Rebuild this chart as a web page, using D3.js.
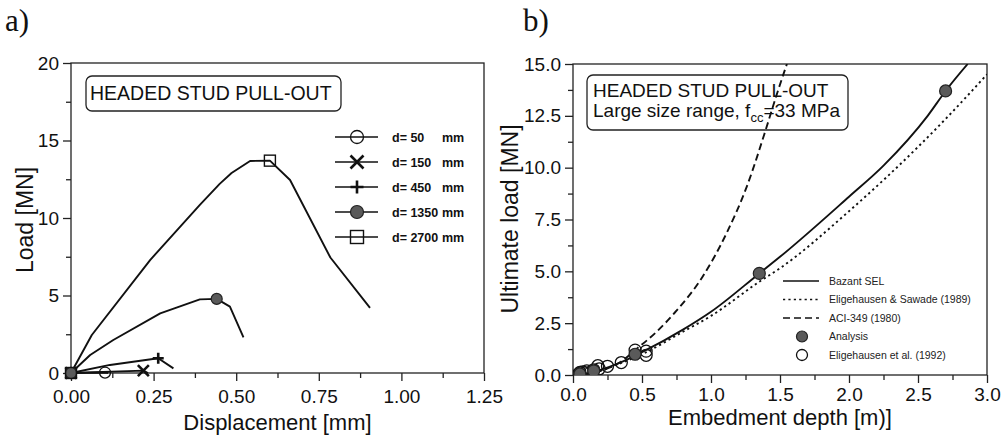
<!DOCTYPE html>
<html>
<head>
<meta charset="utf-8">
<title>Headed stud pull-out</title>
<script src="https://cdn.jsdelivr.net/npm/d3@7"></script>
<style>
  body { margin: 0; background: #fff; }
  svg { font-family: "Liberation Sans", Arial, sans-serif; }
</style>
</head>
<body>
<script>
// ---- panel a) load vs displacement, one curve per stud depth d ----
var d50   = [[0,0],[0.103,0.03],[0.112,0]];
var d150  = [[0,0],[0.219,0.15],[0.233,0]];
var d450  = [[0,0],[0.118,0.52],[0.264,0.95],[0.31,0.3]];
var d1350 = [[0,0],[0.058,1.16],[0.128,2.13],[0.27,3.85],[0.39,4.75],[0.441,4.78],[0.481,4.28],[0.522,2.3]];
var d2700 = [[0,0],[0.063,2.45],[0.24,7.3],[0.39,10.85],[0.45,12.2],[0.486,12.9],[0.542,13.68],[0.602,13.7],[0.663,12.45],[0.785,7.45],[0.905,4.2]];
var seriesA = [d50, d150, d450, d1350, d2700];
var labelsA = ["d= 50", "d= 150", "d= 450", "d= 1350", "d= 2700"];
var xTicksA = [0, 0.25, 0.5, 0.75, 1.0, 1.25];
var yTicksA = [0, 5, 10, 15, 20];

// ---- panel b) ultimate load vs embedment depth ----
var bazantSEL  = [[0,0],[0.1,0.08],[0.2,0.25],[0.35,0.62],[0.5,1.1],[0.8,2.2],[1.0,3.05],[1.35,4.9],[1.5,5.7],[2.0,8.6],[2.25,10.1],[2.57,12.5],[2.7,13.7],[2.86,15.0]];
var eligSawade = [[0,0],[0.1,0.07],[0.2,0.22],[0.35,0.58],[0.5,1.0],[0.8,2.1],[1.0,2.85],[1.35,4.5],[1.5,5.15],[2.0,7.9],[2.5,11.0],[2.7,12.35],[3.0,14.5]];
var aci349     = [[0,0],[0.2,0.2],[0.35,0.65],[0.45,1.2],[0.6,2.05],[0.75,3.1],[0.94,4.75],[1.11,6.8],[1.26,9.1],[1.40,11.9],[1.47,13.4],[1.55,15.0]];
var analysis   = [[0.05,0.05],[0.15,0.2],[0.45,1.0],[1.35,4.9],[2.7,13.7]];
var elig1992   = [[0.04,0.05],[0.05,0.12],[0.07,0.15],[0.09,0.1],[0.10,0.2],[0.13,0.15],[0.15,0.25],[0.18,0.45],[0.19,0.3],[0.25,0.42],[0.35,0.6],[0.45,1.2],[0.53,1.15],[0.53,0.95]];
var labelsB = ["Bazant SEL", "Eligehausen & Sawade (1989)", "ACI-349 (1980)", "Analysis", "Eligehausen et al. (1992)"];
var xTicksB = [0, 0.5, 1.0, 1.5, 2.0, 2.5, 3.0];
var yTicksB = [0, 2.5, 5.0, 7.5, 10.0, 12.5, 15.0];

var svg = d3.select("body").append("svg")
  .attr("width", 1002).attr("height", 438);
svg.append("rect").attr("width", 1002).attr("height", 438).attr("fill", "#fff");

var ink = "#111";

// draws one marker symbol centred at (cx, cy)
function marker(g, type, cx, cy, s) {
  var h = s / 2;
  if (type == "circle") {
    g.append("circle").attr("cx", cx).attr("cy", cy).attr("r", h)
      .attr("fill", "none").attr("stroke", ink).attr("stroke-width", 1.3);
  } else if (type == "dot") {
    g.append("circle").attr("cx", cx).attr("cy", cy).attr("r", h)
      .attr("fill", "#5a5a5a").attr("stroke", "#222").attr("stroke-width", 1.2);
  } else if (type == "square") {
    g.append("rect").attr("x", cx - h).attr("y", cy - h).attr("width", s).attr("height", s)
      .attr("fill", "none").attr("stroke", ink).attr("stroke-width", 1.4);
  } else if (type == "cross") {
    g.append("path").attr("d", "M" + (cx-h) + "," + (cy-h) + "L" + (cx+h) + "," + (cy+h) + "M" + (cx-h) + "," + (cy+h) + "L" + (cx+h) + "," + (cy-h))
      .attr("stroke", ink).attr("stroke-width", 2.6);
  } else if (type == "plus") {
    g.append("path").attr("d", "M" + (cx-h) + "," + cy + "L" + (cx+h) + "," + cy + "M" + cx + "," + (cy-h) + "L" + cx + "," + (cy+h))
      .attr("stroke", ink).attr("stroke-width", 2.6);
  }
}

// frame + major/minor ticks for one panel
function axes(x, y, xt, yt, xfmt, yfmt, pad) {
  var g = svg.append("g");
  var xr = x.range(), yr = y.range();
  var xMinor = xt.slice(1).map(function(d, i) { return (d + xt[i]) / 2; });
  var yMinor = yt.slice(1).map(function(d, i) { return (d + yt[i]) / 2; });

  var xa = g.append("g").attr("transform", "translate(0," + yr[0] + ")")
    .call(d3.axisBottom(x).tickValues(xt).tickFormat(xfmt).tickSize(8).tickSizeOuter(0).tickPadding(pad));
  g.append("g").attr("transform", "translate(0," + yr[0] + ")")
    .call(d3.axisBottom(x).tickValues(xMinor).tickFormat("").tickSize(5).tickSizeOuter(0));
  g.append("g").attr("transform", "translate(" + xr[0] + ",0)")
    .call(d3.axisLeft(y).tickValues(yt).tickFormat(yfmt).tickSize(8).tickSizeOuter(0).tickPadding(4));
  g.append("g").attr("transform", "translate(" + xr[0] + ",0)")
    .call(d3.axisLeft(y).tickValues(yMinor).tickFormat("").tickSize(5).tickSizeOuter(0));

  g.selectAll(".domain").remove();
  g.selectAll(".tick line").attr("stroke", "#222").attr("stroke-width", 1.3);
  g.selectAll("text").attr("font-size", "19px").attr("fill", ink)
    .attr("font-family", "Liberation Sans, Arial, sans-serif");
  xa.selectAll("text").attr("dy", "0.72em");

  g.append("rect").attr("x", xr[0]).attr("y", yr[1])
    .attr("width", xr[1] - xr[0]).attr("height", yr[0] - yr[1])
    .attr("fill", "none").attr("stroke", "#222").attr("stroke-width", 1.3);
}

// ======================= panel a) =======================
var xA = d3.scaleLinear().domain([0, 1.25]).range([71, 484]);
var yA = d3.scaleLinear().domain([0, 20]).range([373, 63]);

svg.append("text").attr("x", 5).attr("y", 31).text("a)")
  .attr("font-family", "Liberation Serif, DejaVu Serif, serif").attr("font-size", "31px").attr("fill", ink);

axes(xA, yA, xTicksA, yTicksA, d3.format(".2f"), d3.format("d"), 8);

svg.append("text").attr("x", 277.5).attr("y", 430).attr("text-anchor", "middle")
  .attr("font-size", "22px").attr("fill", ink).text("Displacement [mm]");
svg.append("text").attr("transform", "translate(33,220) rotate(-90)").attr("text-anchor", "middle")
  .attr("font-size", "23px").attr("fill", ink).text("Load [MN]");

// title box
svg.append("rect").attr("x", 86).attr("y", 76).attr("width", 255).attr("height", 35).attr("rx", 6)
  .attr("fill", "none").attr("stroke", "#222").attr("stroke-width", 1.3);
svg.append("text").attr("x", 90).attr("y", 100).attr("font-size", "19.5px").attr("fill", ink)
  .text("HEADED STUD PULL-OUT");

var symA = ["circle", "cross", "plus", "dot", "square"];
var lineA = d3.line().x(function(d) { return xA(d[0]); }).y(function(d) { return yA(d[1]); });
var gA = svg.append("g");
seriesA.forEach(function(s, i) {
  gA.append("path").datum(s).attr("d", lineA)
    .attr("fill", "none").attr("stroke", ink).attr("stroke-width", 1.9).attr("stroke-linejoin", "round");
});
// markers at origin and at the peak of each curve
seriesA.forEach(function(s, i) {
  marker(gA, symA[i], xA(s[0][0]), yA(s[0][1]), 11);
  var p = s[d3.maxIndex(s, function(d) { return d[1]; })];
  marker(gA, symA[i], xA(p[0]), yA(p[1]), 11);
});

// legend a)
var legA = svg.append("g");
labelsA.forEach(function(t, i) {
  var yy = 137 + i * 25;
  legA.append("line").attr("x1", 335).attr("x2", 378).attr("y1", yy).attr("y2", yy)
    .attr("stroke", ink).attr("stroke-width", 1.6);
  marker(legA, symA[i], 357, yy, 13);
  legA.append("text").attr("x", 392).attr("y", yy + 4.5).attr("font-size", "12.5px").attr("font-weight", "bold")
    .attr("fill", ink).text(t);
  legA.append("text").attr("x", 442).attr("y", yy + 4.5).attr("font-size", "12.5px").attr("font-weight", "bold")
    .attr("fill", ink).text("mm");
});

// ======================= panel b) =======================
var xB = d3.scaleLinear().domain([0, 3]).range([573, 987]);
var yB = d3.scaleLinear().domain([0, 15]).range([375, 64]);

svg.append("text").attr("x", 523).attr("y", 31).text("b)")
  .attr("font-family", "Liberation Serif, DejaVu Serif, serif").attr("font-size", "31px").attr("fill", ink);

axes(xB, yB, xTicksB, yTicksB, d3.format(".1f"), d3.format(".1f"), 4);

svg.append("text").attr("x", 780).attr("y", 425).attr("text-anchor", "middle")
  .attr("font-size", "22px").attr("fill", ink).text("Embedment depth [m)]");
svg.append("text").attr("transform", "translate(518,219) rotate(-90)").attr("text-anchor", "middle")
  .attr("font-size", "23px").attr("fill", ink).text("Ultimate load [MN]");

// title box
svg.append("rect").attr("x", 587).attr("y", 75).attr("width", 261).attr("height", 55).attr("rx", 6)
  .attr("fill", "none").attr("stroke", "#222").attr("stroke-width", 1.3);
svg.append("text").attr("x", 593).attr("y", 97).attr("font-size", "19px").attr("fill", ink)
  .text("HEADED STUD PULL-OUT");
var t2 = svg.append("text").attr("x", 593).attr("y", 117).attr("font-size", "19px").attr("fill", ink);
t2.append("tspan").text("Large size range, f");
t2.append("tspan").attr("font-size", "13px").attr("dy", 5).text("cc");
t2.append("tspan").attr("dy", -5).text("=33 MPa");

svg.append("clipPath").attr("id", "clipB").append("rect")
  .attr("x", 573).attr("y", 64).attr("width", 414).attr("height", 311);

var lineB = d3.line().curve(d3.curveMonotoneX)
  .x(function(d) { return xB(d[0]); }).y(function(d) { return yB(d[1]); });
var gB = svg.append("g").attr("clip-path", "url(#clipB)");
var stylesB = [
  { data: bazantSEL, dash: null },
  { data: eligSawade, dash: "2.2,3.2" },
  { data: aci349, dash: "7,4" }
];
stylesB.forEach(function(c) {
  gB.append("path").datum(c.data).attr("d", lineB)
    .attr("fill", "none").attr("stroke", ink).attr("stroke-width", 1.9)
    .attr("stroke-dasharray", c.dash);
});
elig1992.forEach(function(d) { marker(gB, "circle", xB(d[0]), yB(d[1]), 12); });
analysis.forEach(function(d) { marker(gB, "dot", xB(d[0]), yB(d[1]), 12); });

// legend b)
var legB = svg.append("g");
labelsB.forEach(function(t, i) {
  var yy = 281 + i * 18.5;
  if (i < 3) {
    legB.append("line").attr("x1", 783).attr("x2", 819).attr("y1", yy).attr("y2", yy)
      .attr("stroke", ink).attr("stroke-width", 1.6).attr("stroke-dasharray", stylesB[i].dash);
  } else {
    marker(legB, i == 3 ? "dot" : "circle", 802, yy, 11);
  }
  legB.append("text").attr("x", 829).attr("y", yy + 3.8).attr("font-size", "10.5px")
    .attr("fill", "#222").text(t);
});
</script>
</body>
</html>
